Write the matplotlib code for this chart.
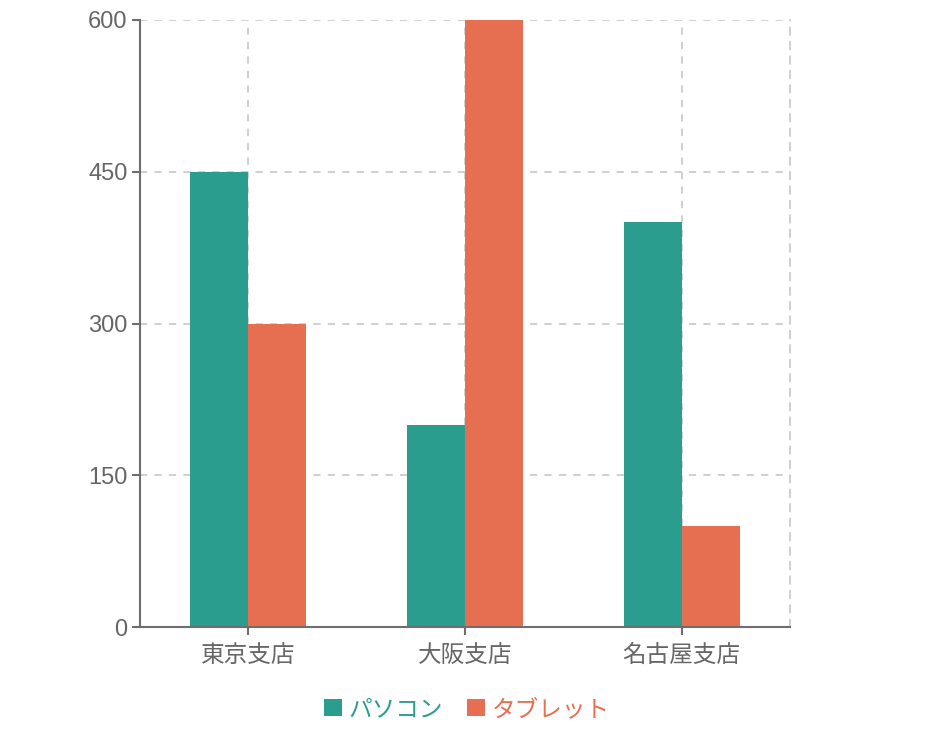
import numpy as np
import matplotlib.pyplot as plt

plt.rcParams['font.family'] = ['Liberation Sans', 'Noto Sans CJK JP', 'DejaVu Sans']

# data
branches = ["東京支店", "大阪支店", "名古屋支店"]
pc = [450, 200, 400]
tablet = [300, 600, 100]
series_names = ["パソコン", "タブレット"]
yticks = [0, 150, 300, 450, 600]

teal = "#2a9d8f"
orange = "#e76f51"
axis_col = "#6e6e6e"
grid_col = "#cccccc"

fig = plt.figure(figsize=(9.32, 7.52), dpi=100)
ax = fig.add_axes([140/932, 1-627/752, 650/932, 607/752])

x = np.arange(len(branches))
w = 0.267
b1 = ax.bar(x - w/2, pc, w, color=teal, label=series_names[0])
b2 = ax.bar(x + w/2, tablet, w, color=orange, label=series_names[1])

ax.set_xlim(-0.5, len(branches) - 0.5)
ax.set_ylim(0, 600)
ax.set_xticks(x)
ax.set_xticklabels(branches)
ax.set_yticks(yticks)

ax.set_axisbelow(True)
ax.grid(True, color=grid_col, linestyle=(0, (4, 4)), linewidth=1.3)

ax.spines['top'].set_visible(False)
ax.spines['right'].set_color(grid_col)
ax.spines['right'].set_linestyle((0, (4, 4)))
ax.spines['right'].set_linewidth(1.3)
for s in ['left', 'bottom']:
    ax.spines[s].set_color(axis_col)
    ax.spines[s].set_linewidth(1.5)
    ax.spines[s].set_zorder(3)

ax.tick_params(axis='both', colors=axis_col, labelsize=17, length=6, width=1.5)
ax.tick_params(axis='x', pad=7)
ax.tick_params(axis='y', pad=3)
for lbl in ax.get_xticklabels() + ax.get_yticklabels():
    lbl.set_color("#666666")

leg = fig.legend(handles=[b1, b2], labels=series_names, loc='center',
                 bbox_to_anchor=(467/932, 1-710/752), ncol=2, frameon=False,
                 fontsize=17, handlelength=0.75, handleheight=0.75,
                 handletextpad=0.3, columnspacing=1.0)
for t, c in zip(leg.get_texts(), [teal, orange]):
    t.set_color(c)

fig.savefig("out.png", dpi=100)
